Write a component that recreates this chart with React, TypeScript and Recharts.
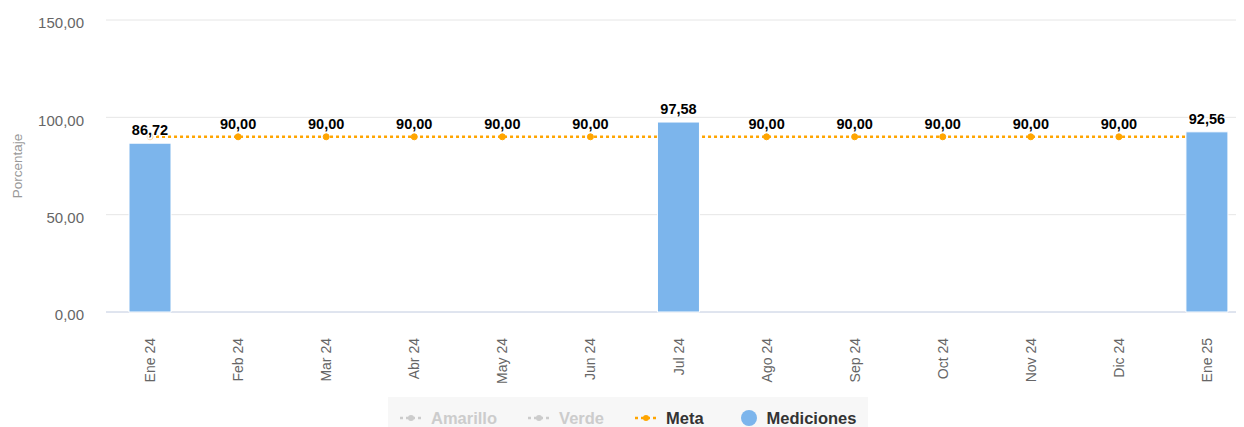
import React from "react";
import {
  ComposedChart,
  Bar,
  Line,
  XAxis,
  YAxis,
  CartesianGrid,
  Legend,
  LabelList,
} from "recharts";

const meses = [
  "Ene 24", "Feb 24", "Mar 24", "Abr 24", "May 24", "Jun 24", "Jul 24",
  "Ago 24", "Sep 24", "Oct 24", "Nov 24", "Dic 24", "Ene 25",
];
const mediciones = [86.72, null, null, null, null, null, 97.58, null, null, null, null, null, 92.56];
const meta = [90, 90, 90, 90, 90, 90, 90, 90, 90, 90, 90, 90, 90];
const yTicks = [0, 50, 100, 150];

const leyenda = [
  { name: "Amarillo", color: "#cccccc", type: "line", hidden: true },
  { name: "Verde", color: "#cccccc", type: "line", hidden: true },
  { name: "Meta", color: "#ffa500", type: "line", hidden: false },
  { name: "Mediciones", color: "#7cb5ec", type: "circle", hidden: false },
];

const data = meses.map((mes, i) => ({ mes, mediciones: mediciones[i], meta: meta[i] }));

const FONT = '"Liberation Sans", Arial, Helvetica, sans-serif';
const fmt = (v: number) => v.toFixed(2).replace(".", ",");

const XTick = ({ x, y, payload }: any) => (
  <text
    x={x}
    y={y + 18}
    transform={`rotate(-90 ${x} ${y + 18})`}
    textAnchor="end"
    dominantBaseline="central"
    fill="#666"
    fontSize={14}
    fontFamily={FONT}
  >
    {payload.value}
  </text>
);

const valueText = (x: number, y: number, value: number) => (
  <text
    x={x}
    y={y}
    textAnchor="middle"
    dominantBaseline="central"
    fontSize={14.5}
    fontWeight="bold"
    fontFamily={FONT}
    fill="#000"
    stroke="#fff"
    strokeWidth={2}
    paintOrder="stroke"
  >
    {fmt(value)}
  </text>
);

const BarLabel = ({ x, y, width, value }: any) => {
  if (value == null) return null;
  return valueText(x + width / 2, y - 13, value);
};

const MetaLabel = ({ x, y, value, index }: any) => {
  if (mediciones[index] != null) return null;
  return valueText(x, y - 13, value);
};

const MetaDot = ({ cx, cy, index }: any) => (
  <circle
    cx={cx}
    cy={cy}
    r={3}
    fill={index === 0 ? "#fff" : "#ffa500"}
    stroke={index === 0 ? "#fcd9a0" : "#ffa500"}
    strokeWidth={1}
  />
);

const LegendContent = () => (
  <div
    style={{
      display: "flex",
      alignItems: "center",
      height: 42,
      paddingLeft: 12,
      background: "#f7f7f7",
      fontFamily: FONT,
      fontSize: 16.5,
      fontWeight: "bold",
    }}
  >
    {leyenda.map((it) => (
      <div key={it.name} style={{ display: "flex", alignItems: "center", marginRight: 31 }}>
        <svg width={22} height={16} style={{ marginRight: it.type === "circle" ? 10 : 9 }}>
          {it.type === "line" ? (
            <>
              <line x1={0} y1={8} x2={22} y2={8} stroke={it.color} strokeWidth={2.5} strokeDasharray="3 3" />
              <circle cx={11} cy={8} r={3} fill={it.color} />
            </>
          ) : (
            <circle cx={14} cy={8} r={8} fill={it.color} />
          )}
        </svg>
        <span style={{ color: it.hidden ? "#cccccc" : "#333333" }}>{it.name}</span>
      </div>
    ))}
  </div>
);

export default function App() {
  return (
    <div style={{ width: 1236, height: 419, overflow: "hidden" }}>
      <ComposedChart
        width={1250}
        height={419}
        data={data}
        margin={{ top: 12, right: 7, bottom: 35, left: 0 }}
      >
        <CartesianGrid vertical={false} stroke="#e6e6e6" />
        <XAxis
          dataKey="mes"
          height={80}
          tickLine={false}
          axisLine={{ stroke: "#ccd6eb" }}
          tick={<XTick />}
          interval={0}
        />
        <YAxis
          width={98}
          domain={[0, 150]}
          ticks={yTicks}
          tickFormatter={fmt}
          axisLine={false}
          tickLine={false}
          tickSize={0}
          tickMargin={22}
          tick={{ fill: "#666", fontSize: 15, fontFamily: FONT, dy: 3 }}
          label={() => (
            <text
              x={9}
              y={158}
              transform="rotate(-90 9 158)"
              textAnchor="middle"
              dominantBaseline="central"
              fill="#999"
              fontSize={13.5}
              fontFamily={FONT}
            >
              Porcentaje
            </text>
          )}
        />
        <Line
          dataKey="meta"
          stroke="#ffa500"
          strokeWidth={2.5}
          strokeDasharray="3 3"
          dot={<MetaDot />}
          activeDot={false}
          isAnimationActive={false}
        >
          <LabelList dataKey="meta" content={<MetaLabel />} />
        </Line>
        <Bar
          dataKey="mediciones"
          barSize={42}
          fill="#7cb5ec"
          stroke="#fff"
          strokeWidth={1}
          zIndex={650}
          isAnimationActive={false}
        >
          <LabelList dataKey="mediciones" content={<BarLabel />} />
        </Bar>
        <Legend
          verticalAlign="middle"
          align="center"
          content={<LegendContent />}
          wrapperStyle={{ top: 389, left: 380, width: 480, height: 42 }}
        />
      </ComposedChart>
    </div>
  );
}
